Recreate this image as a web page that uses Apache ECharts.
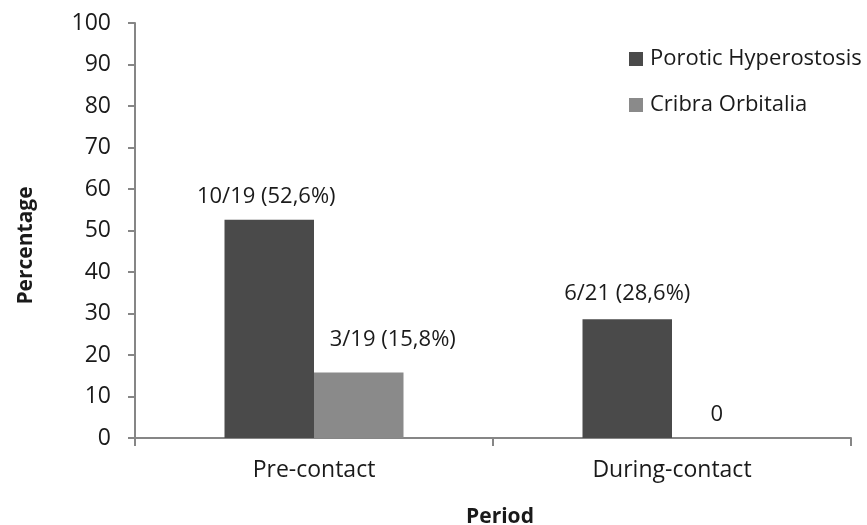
<!DOCTYPE html>
<html>
<head>
<meta charset="utf-8">
<script src="https://cdn.jsdelivr.net/npm/echarts@6/dist/echarts.min.js"></script>
<style>
  html, body { margin: 0; padding: 0; background: #fff; }
  #chart { width: 867px; height: 525px; }
</style>
</head>
<body>
<div id="chart"></div>
<script>
// Lesion frequency by period
const categories = ['Pre-contact', 'During-contact'];
const seriesNames = ['Porotic Hyperostosis', 'Cribra Orbitalia'];
const poroticValues = [52.6, 28.6];
const cribraValues = [15.8, 0];
const poroticLabels = ['10/19 (52,6%)', '6/21 (28,6%)'];
const cribraLabels = ['3/19 (15,8%)', '0'];
const yTicks = { min: 0, max: 100, interval: 10 };

const FONT = 'Open Sans';
const TEXT = '#1a1a1a';
const AXIS = '#868686';
const FS = 22;

const chart = echarts.init(document.getElementById('chart'), null, { renderer: 'canvas' });

function makeSeries(name, values, labels, color, offsets) {
  return {
    name: name,
    type: 'bar',
    barWidth: '25%',
    barGap: '0%',
    itemStyle: { color: color },
    data: values.map((v, i) => ({
      value: v,
      label: {
        show: true,
        position: 'top',
        distance: 15,
        offset: offsets[i],
        formatter: labels[i],
        fontFamily: FONT,
        fontSize: FS,
        color: TEXT
      }
    }))
  };
}

chart.setOption({
  animation: false,
  textStyle: { fontFamily: FONT },
  grid: { left: 135, right: 16, top: 23, bottom: 87, containLabel: false, outerBoundsMode: 'none' },
  legend: {
    orient: 'vertical',
    left: 629,
    top: 48,
    itemWidth: 14,
    itemHeight: 14,
    itemGap: 24,
    icon: 'rect',
    padding: 0,
    textStyle: { fontFamily: FONT, fontSize: FS, color: TEXT, padding: [0, 0, 0, 2], lineHeight: 22 },
    data: seriesNames
  },
  xAxis: {
    type: 'category',
    data: categories,
    name: 'Period',
    nameLocation: 'middle',
    nameGap: 69,
    nameTextStyle: { fontFamily: FONT, fontSize: 21, fontWeight: 'bold', color: TEXT, padding: [0, 0, 0, 14] },
    axisLine: { lineStyle: { color: AXIS, width: 2 } },
    axisTick: { show: true, length: 8, lineStyle: { color: AXIS, width: 2 } },
    axisLabel: { fontFamily: FONT, fontSize: 23, color: TEXT, margin: 21 }
  },
  yAxis: {
    type: 'value',
    min: yTicks.min,
    max: yTicks.max,
    interval: yTicks.interval,
    name: 'Percentage',
    nameLocation: 'middle',
    nameGap: 98,
    nameTextStyle: { fontFamily: FONT, fontSize: 21, fontWeight: 'bold', color: TEXT, padding: [0, 30, 0, 0] },
    axisLine: { show: true, lineStyle: { color: AXIS, width: 2 } },
    axisTick: { show: true, length: 7, lineStyle: { color: AXIS, width: 2 } },
    axisLabel: { fontFamily: FONT, fontSize: 23, color: TEXT, margin: 24 },
    splitLine: { show: false }
  },
  series: [
    makeSeries(seriesNames[0], poroticValues, poroticLabels, '#4a4a4a', [[-3, 3], [0, 0]]),
    makeSeries(seriesNames[1], cribraValues, cribraLabels, '#8a8a8a', [[34, -7], [0, 3]])
  ]
});
</script>
</body>
</html>
